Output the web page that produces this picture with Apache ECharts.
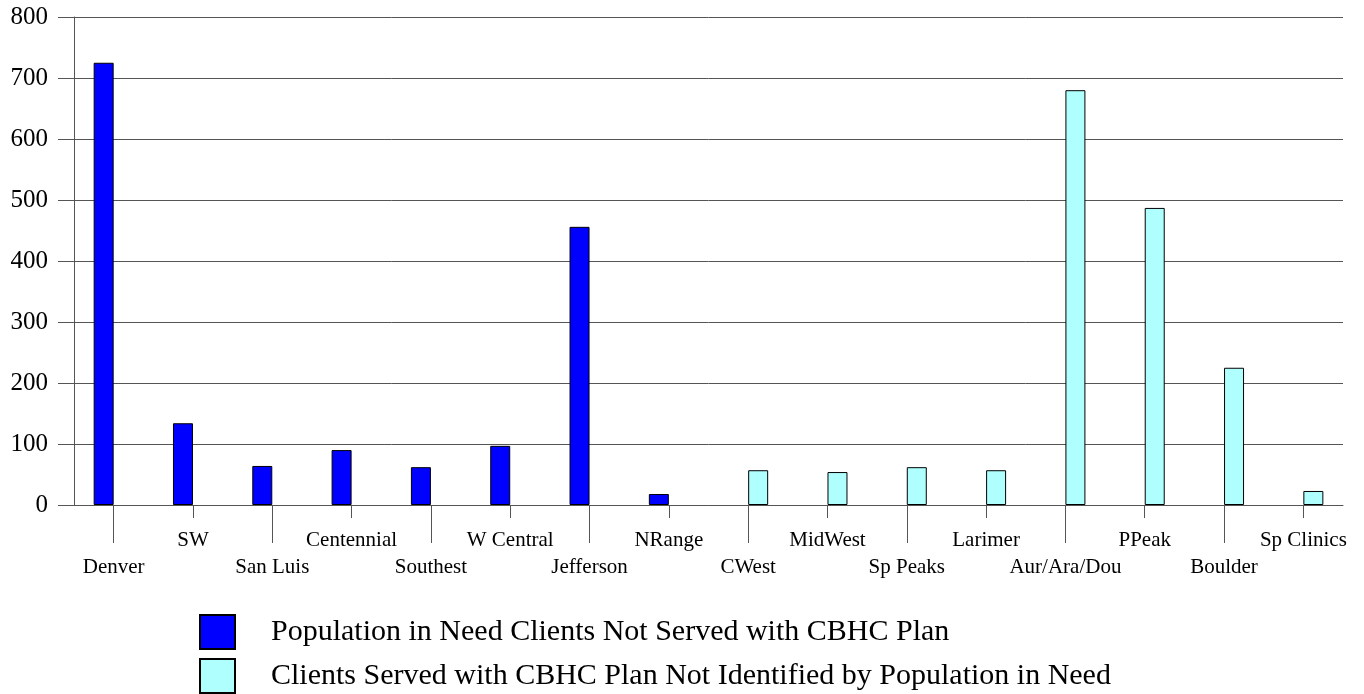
<!DOCTYPE html>
<html>
<head>
<meta charset="utf-8">
<title>CBHC</title>
<script src="https://cdn.jsdelivr.net/npm/echarts@6/dist/echarts.min.js"></script>
<style>
  html, body { margin: 0; padding: 0; background: #fff; }
  #main { width: 1364px; height: 694px; }
</style>
</head>
<body>
<div id="main"></div>
<script>
// categories along the x axis
const regions = ['Denver', 'SW', 'San Luis', 'Centennial', 'Southest', 'W Central', 'Jefferson', 'NRange',
  'CWest', 'MidWest', 'Sp Peaks', 'Larimer', 'Aur/Ara/Dou', 'PPeak', 'Boulder', 'Sp Clinics']
// population in need, not served
const notServed = [725, 134, 64, 90, 62, 97, 456, 18, '-', '-', '-', '-', '-', '-', '-', '-']
// served, not identified
const notIdentified = ['-', '-', '-', '-', '-', '-', '-', '-', 57, 54, 62, 57, 680, 487, 225, 23]
const seriesNames = ['Population in Need Clients Not Served with CBHC Plan',
  'Clients Served with CBHC Plan Not Identified by Population in Need']

const serif = "'Liberation Serif', 'DejaVu Serif', serif"
const lineColor = '#555'

const chart = echarts.init(document.getElementById('main'))

const even = (i) => i % 2 === 0
const odd = (i) => i % 2 === 1

// one legend per row, so they stack
const legendRow = (name, top) => ({
  left: 199,
  top: top,
  padding: 0,
  itemWidth: 35,
  itemHeight: 34,
  icon: 'rect',
  selectedMode: false,
  textStyle: { fontFamily: serif, fontSize: 30, color: '#000', padding: [6, 0, 0, 31] },
  data: [name]
})

const option = {
  animation: false,
  grid: { left: 74, right: 21, top: 17, bottom: 189, containLabel: false },
  legend: [
    legendRow(seriesNames[0], 614),
    legendRow(seriesNames[1], 658)
  ],
  xAxis: [
    {
      // long ticks + lower labels
      type: 'category',
      data: regions,
      axisLine: { show: true, lineStyle: { color: lineColor, width: 1 } },
      axisTick: { show: true, alignWithLabel: true, interval: even, length: 38, lineStyle: { color: lineColor } },
      axisLabel: { interval: even, margin: 52, fontFamily: serif, fontSize: 21, color: '#000' }
    },
    {
      // short ticks + upper labels
      type: 'category',
      position: 'bottom',
      data: regions,
      axisLine: { show: false },
      axisTick: { show: true, alignWithLabel: true, interval: odd, length: 13, lineStyle: { color: lineColor } },
      axisLabel: { interval: odd, margin: 25, fontFamily: serif, fontSize: 21, color: '#000' }
    }
  ],
  yAxis: {
    type: 'value',
    min: 0,
    max: 800,
    interval: 100,
    axisLine: { show: true, lineStyle: { color: lineColor, width: 1 } },
    axisTick: { show: true, length: 16, lineStyle: { color: lineColor } },
    axisLabel: { margin: 26, fontFamily: serif, fontSize: 25, color: '#000' },
    splitLine: { show: true, lineStyle: { color: lineColor, width: 1 } }
  },
  series: [
    {
      name: seriesNames[0],
      type: 'bar',
      barWidth: 20,
      barGap: '0%',
      itemStyle: { color: '#0000ff', borderColor: '#000', borderWidth: 1 },
      data: notServed
    },
    {
      name: seriesNames[1],
      type: 'bar',
      barWidth: 20,
      barGap: '0%',
      itemStyle: { color: '#b0ffff', borderColor: '#000', borderWidth: 1 },
      data: notIdentified
    }
  ]
}

chart.setOption(option)
</script>
</body>
</html>
